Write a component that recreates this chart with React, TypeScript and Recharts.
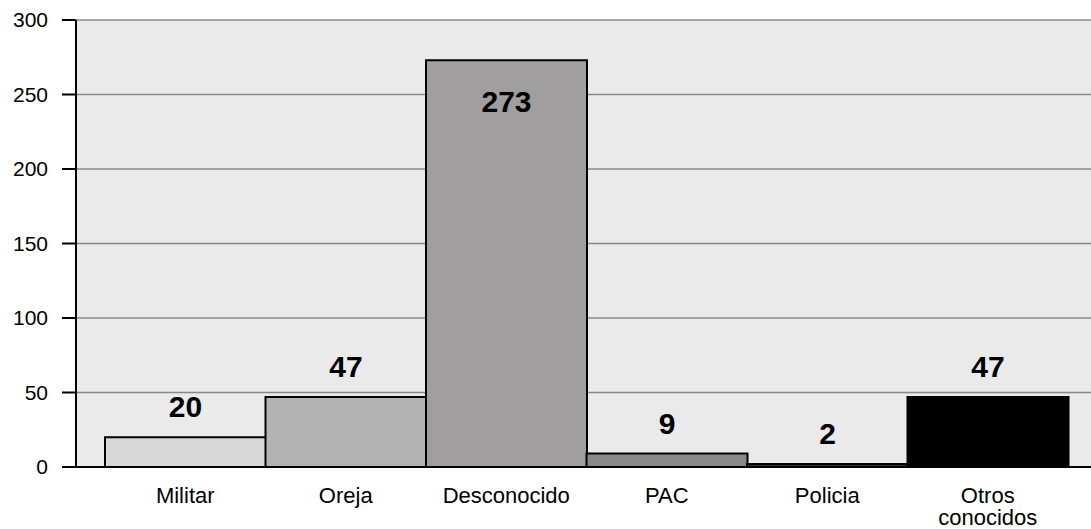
import { BarChart, Bar, XAxis, YAxis, CartesianGrid, Cell, LabelList } from 'recharts'

const categories = ['Militar', 'Oreja', 'Desconocido', 'PAC', 'Policia', 'Otros conocidos']
const counts = [20, 47, 273, 9, 2, 47]
const barColors = ['#d8d8d8', '#b3b3b3', '#a09e9e', '#898989', '#333333', '#000000']
const yTicks = [0, 50, 100, 150, 200, 250, 300]

const data = categories.map((name, i) => ({ name, value: counts[i] }))

const font = '"Liberation Sans", Arial, sans-serif'

function CategoryTick({ x, y, payload }: any) {
  const words = String(payload.value).split(' ')
  const lines = words.length > 1 ? words : [payload.value]
  return (
    <text x={x} y={y} textAnchor="middle" fontFamily={font} fontSize={22} fill="#000">
      {lines.map((w: string, i: number) => (
        <tspan key={i} x={x} dy={i === 0 ? 28 : 22}>{w}</tspan>
      ))}
    </text>
  )
}

function ValueLabel({ x, y, width, value }: any) {
  const inside = value > 250
  return (
    <text
      x={x + width / 2}
      y={inside ? y + 52 : y - 20}
      textAnchor="middle"
      fontFamily={font}
      fontWeight="bold"
      fontSize={30}
      fill="#000"
    >
      {value}
    </text>
  )
}

export default function App() {
  return (
    <div style={{ width: 1091, height: 529, background: '#fff' }}>
      <style>{'body{margin:0}'}</style>
      <BarChart
        width={1091}
        height={529}
        data={data}
        margin={{ top: 20, right: 0, bottom: 0, left: 0 }}
        barCategoryGap={0}
      >
        <CartesianGrid vertical={false} fill="#eaeaea" stroke="#888" strokeWidth={1.5} />
        <XAxis
          dataKey="name"
          interval={0}
          height={62}
          padding={{ left: 29, right: 23 }}
          axisLine={{ stroke: '#000', strokeWidth: 2 }}
          tickLine={false}
          tick={<CategoryTick />}
        />
        <YAxis
          width={76}
          domain={[0, 300]}
          ticks={yTicks}
          tickSize={14}
          tickMargin={14}
          axisLine={{ stroke: '#000', strokeWidth: 2 }}
          tickLine={{ stroke: '#000', strokeWidth: 2 }}
          tick={{ fill: '#000', fontSize: 21, fontFamily: font }}
        />
        <Bar dataKey="value" stroke="#000" strokeWidth={2} isAnimationActive={false}>
          {data.map((d, i) => (
            <Cell key={d.name} fill={barColors[i]} />
          ))}
          <LabelList dataKey="value" content={<ValueLabel />} />
        </Bar>
      </BarChart>
    </div>
  )
}
